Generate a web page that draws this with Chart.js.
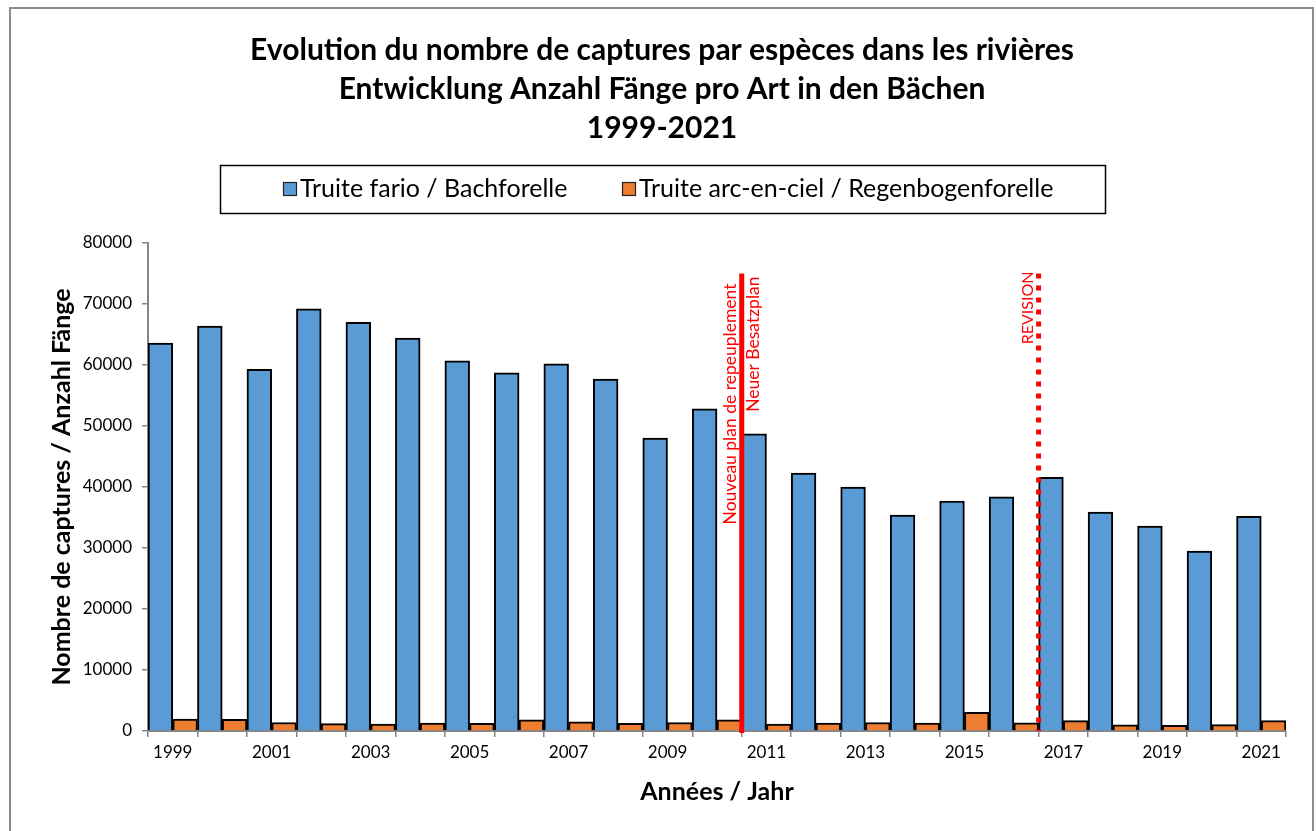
<!DOCTYPE html>
<html>
<head>
<meta charset="utf-8">
<script src="https://cdn.jsdelivr.net/npm/chart.js@4"></script>
<style>
  html, body { margin: 0; padding: 0; background: #fff; }
  #wrap { width: 1316px; height: 831px; position: relative; }
</style>
</head>
<body>
<div id="wrap"><canvas id="c" width="1316" height="831"></canvas></div>
<script>
// ---- data ----
const titleLines = [
  'Evolution du nombre de captures par espèces dans les rivières',
  'Entwicklung Anzahl Fänge pro Art in den Bächen',
  '1999-2021'
];
const years = ['1999','2000','2001','2002','2003','2004','2005','2006','2007','2008','2009','2010',
               '2011','2012','2013','2014','2015','2016','2017','2018','2019','2020','2021'];
const seriesNames = ['Truite fario / Bachforelle', 'Truite arc-en-ciel / Regenbogenforelle'];
const fario = [63600, 66400, 59300, 69200, 67000, 64400, 60700, 58700, 60200, 57700, 48000, 52800,
               48700, 42300, 40000, 35400, 37700, 38400, 41600, 35900, 33600, 29500, 35200];
const arcEnCiel = [1950, 1900, 1400, 1200, 1150, 1300, 1250, 1850, 1500, 1250, 1400, 1850,
                   1150, 1300, 1400, 1300, 3050, 1350, 1700, 1000, 950, 1050, 1700];
const yTicks = [0, 10000, 20000, 30000, 40000, 50000, 60000, 70000, 80000];
const yTitle = 'Nombre de captures / Anzahl Fänge';
const xTitle = 'Années / Jahr';
// markers: drawn between the given year and the next one
const markerYears = ['2010', '2016'];
const markerLabelsLeft = ['Nouveau plan de repeuplement', 'REVISION'];
const markerLabelsRight = ['Neuer Besatzplan', ''];
const markerTop = 75000;

const FONT = 'Lato, "Open Sans", "Liberation Sans", sans-serif';
const BLUE = '#5B9BD5', ORANGE = '#ED7D31', AXIS = '#868686';

const decorPlugin = {
  id: 'decor',
  beforeDraw(chart) {
    const ctx = chart.ctx;
    ctx.save();
    ctx.fillStyle = '#fff';
    ctx.fillRect(0, 0, chart.width, chart.height);
    ctx.strokeStyle = '#8c8c8c';
    ctx.lineWidth = 2;
    ctx.strokeRect(10, 8, 1303, 830);
    ctx.restore();
  },
  afterDraw(chart) {
    const ctx = chart.ctx;
    const xs = chart.scales.x, ys = chart.scales.y;
    ctx.save();
    // title
    ctx.fillStyle = '#000';
    ctx.textAlign = 'center';
    ctx.textBaseline = 'middle';
    ctx.font = 'bold 30px ' + FONT;
    const tY = [50, 89, 128];
    titleLines.forEach((t, i) => ctx.fillText(t, 662, tY[i]));

    // legend box
    ctx.strokeStyle = '#000';
    ctx.lineWidth = 1.5;
    ctx.strokeRect(220.5, 165.5, 885, 48);
    ctx.font = '25px ' + FONT;
    ctx.textAlign = 'left';
    const sw = [283, 622];
    const cols = [BLUE, ORANGE];
    seriesNames.forEach((n, i) => {
      ctx.fillStyle = cols[i];
      ctx.fillRect(sw[i], 182, 14, 14);
      ctx.strokeStyle = '#222';
      ctx.lineWidth = 1.2;
      ctx.strokeRect(sw[i] + 0.5, 182.5, 13, 13);
      ctx.fillStyle = '#000';
      ctx.fillText(n, sw[i] + 17, 189);
    });

    // axis titles
    ctx.font = 'bold 25px ' + FONT;
    ctx.textAlign = 'center';
    ctx.fillStyle = '#000';
    ctx.fillText(xTitle, 717, 792);
    ctx.save();
    ctx.translate(62, 487);
    ctx.rotate(-Math.PI / 2);
    ctx.fillText(yTitle, 0, 0);
    ctx.restore();

    // marker lines
    const yTop = ys.getPixelForValue(markerTop);
    const yBot = ys.getPixelForValue(0);
    markerYears.forEach((yr, i) => {
      const idx = years.indexOf(yr);
      const x = (xs.getPixelForValue(idx) + xs.getPixelForValue(idx + 1)) / 2;
      ctx.strokeStyle = '#FF0000';
      ctx.lineWidth = 5;
      ctx.setLineDash(i === 0 ? [] : [5, 7]);
      ctx.beginPath();
      ctx.moveTo(x, yTop);
      ctx.lineTo(x, i === 0 ? yBot + 2 : yBot);
      ctx.stroke();
      ctx.setLineDash([]);
      ctx.fillStyle = '#FF0000';
      ctx.textAlign = 'right';
      ctx.textBaseline = 'middle';
      if (markerLabelsLeft[i]) {
        ctx.font = (i === 0 ? '17.5px ' : '16px ') + FONT;
        ctx.save();
        ctx.translate(x - 11, i === 0 ? yTop + 10 : yTop - 2);
        ctx.rotate(-Math.PI / 2);
        ctx.fillText(markerLabelsLeft[i], 0, 0);
        ctx.restore();
      }
      if (markerLabelsRight[i]) {
        ctx.font = '17.5px ' + FONT;
        ctx.save();
        ctx.translate(x + 12, yTop + 3);
        ctx.rotate(-Math.PI / 2);
        ctx.fillText(markerLabelsRight[i], 0, 0);
        ctx.restore();
      }
    });
    ctx.restore();
  }
};

new Chart(document.getElementById('c'), {
  type: 'bar',
  data: {
    labels: years,
    datasets: [
      { label: seriesNames[0], data: fario, backgroundColor: BLUE, borderColor: '#000', borderWidth: 2,
        categoryPercentage: 1.0, barPercentage: 1.0 },
      { label: seriesNames[1], data: arcEnCiel, backgroundColor: ORANGE, borderColor: '#000', borderWidth: 2,
        categoryPercentage: 1.0, barPercentage: 1.0 }
    ]
  },
  options: {
    responsive: false,
    animation: false,
    devicePixelRatio: 1,
    layout: { padding: { left: 10, right: 30, top: 243, bottom: 0 } },
    plugins: { legend: { display: false }, title: { display: false }, tooltip: { enabled: false } },
    scales: {
      x: {
        type: 'category',
        offset: true,
        afterFit(s) { s.height = 100; },
        grid: { offset: true, drawOnChartArea: false, tickLength: 6, color: AXIS, lineWidth: 1.5 },
        border: { color: AXIS, width: 2 },
        ticks: {
          autoSkip: false, maxRotation: 0, padding: 5, color: '#000',
          font: { family: FONT, size: 17 },
          callback(v, i) { return i % 2 === 0 ? years[i] : ''; }
        }
      },
      y: {
        min: 0, max: 80000,
        afterFit(s) { s.width = 138; },
        afterBuildTicks(s) { s.ticks = yTicks.map(v => ({ value: v })); },
        grid: { drawOnChartArea: false, tickLength: 6, color: AXIS, lineWidth: 1.5 },
        border: { color: AXIS, width: 2 },
        ticks: { padding: 10, color: '#000', font: { family: FONT, size: 17 },
          callback(v) { return String(v); } }
      }
    }
  },
  plugins: [decorPlugin]
});
</script>
</body>
</html>
